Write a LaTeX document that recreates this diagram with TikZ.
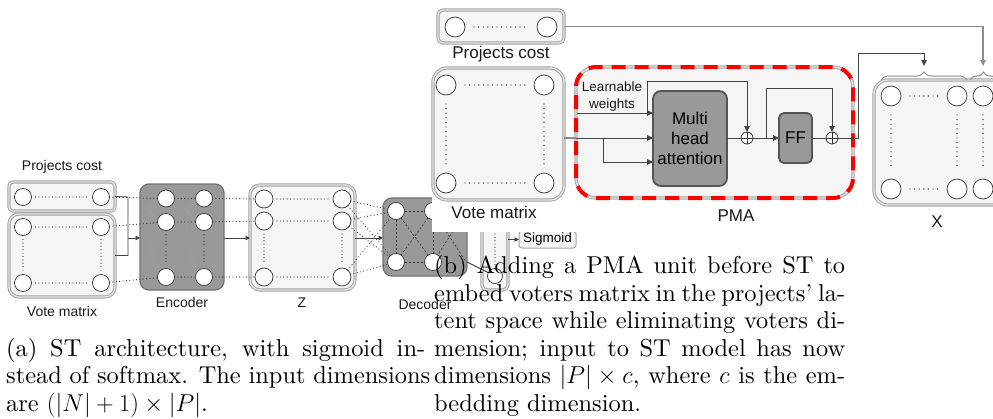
\RequirePackage{fix-cm}
\documentclass[tikz,border=0pt]{standalone}
\usepackage{fontspec}
\newfontfamily\dsans{Liberation Sans}
\newfontfamily\capfam{lmroman10-regular}[Extension=.otf, Ligatures=TeX]
\usetikzlibrary{arrows.meta,decorations.pathreplacing}
\definecolor{boxfill}{HTML}{F5F5F5}
\definecolor{boxline}{HTML}{A0A0A0}
\definecolor{boxdbl}{HTML}{E4E4E4}
\definecolor{darkfill}{HTML}{999999}
\definecolor{darkline}{HTML}{747474}
\definecolor{mhaline}{HTML}{555555}
\definecolor{aconncol}{HTML}{444444}
\definecolor{gconncol}{HTML}{8C8C8C}
\definecolor{dotcol}{HTML}{333333}
\definecolor{curvecol}{HTML}{A2A2A2}
\newcommand\capfont{\fontsize{24.4}{27.5}\capfam}
\tikzset{
  lbox/.style={draw=boxline, double=boxdbl, double distance=1.4pt, line width=0.9pt, fill=boxfill, rounded corners=#1, inner sep=0pt, outer sep=0pt},
  lbox/.default=8pt,
  sbox/.style={draw=boxline, line width=1pt, fill=boxfill, rounded corners=3pt, inner sep=0pt, outer sep=0pt},
  dbox/.style={draw=darkline, line width=1.3pt, fill=darkfill, rounded corners=9pt, inner sep=0pt, outer sep=0pt},
  mbox/.style={draw=mhaline, line width=1.8pt, fill=darkfill, rounded corners=8pt, inner sep=0pt, outer sep=0pt, align=center, font=\dsans\fontsize{17}{20}\selectfont},
  circ/.style={circle, draw=dotcol, fill=white, line width=0.7pt, minimum size=#1, inner sep=0pt, outer sep=0pt},
  circ/.default=17pt,
  oplus/.style={circle, draw=dotcol, fill=white, line width=0.8pt, minimum size=12pt, inner sep=0pt, outer sep=0pt,
    path picture={\draw[dotcol, line width=0.8pt] (path picture bounding box.north) -- (path picture bounding box.south) (path picture bounding box.west) -- (path picture bounding box.east);}},
  laba/.style={font=\dsans\fontsize{14}{16}\selectfont, inner sep=0pt, text=black!90},
  labb/.style={font=\dsans\fontsize{17}{20}\selectfont, inner sep=0pt, text=black!90},
  lwtext/.style={font=\dsans\fontsize{13.5}{17}\selectfont, inner sep=0pt, align=center, text=black!90},
  idots/.style={draw=dotcol, line width=1.2pt, line cap=round, dash pattern=on 0pt off 3.4pt, shorten >=4pt, shorten <=4pt},
  edots/.style={draw=dotcol, line width=1.2pt, line cap=round, dash pattern=on 0pt off 3.4pt},
  bdots/.style={draw=dotcol, line width=1.4pt, line cap=round, dash pattern=on 0pt off 4.6pt, shorten >=9pt, shorten <=9pt},
  gcurve/.style={draw=curvecol, line width=1pt, line cap=round, dash pattern=on 0pt off 2pt},
  ddash/.style={draw=dotcol, line width=0.6pt, dash pattern=on 2pt off 2pt},
  aconn/.style={draw=aconncol, line width=0.9pt},
  aarr/.style={-{Triangle[length=4.5pt,width=4.5pt]}},
  pconn/.style={draw=aconncol, line width=1pt},
  gconn/.style={draw=gconncol, line width=1.3pt},
  parr/.style={-{Triangle[length=6pt,width=5.5pt]}},
  reddash/.style={draw=red, line width=4pt, dash pattern=on 14pt off 9pt},
  bracestyle/.style={draw=gconncol, line width=1pt, decorate, decoration={brace, amplitude=8pt}},
  capline/.style={anchor=base west, inner sep=0pt, font=\capfont},
}
\begin{document}
\begin{tikzpicture}[x=1pt, y=-1pt]
\useasboundingbox (0,0) rectangle (993,418);
\clip (0,0) rectangle (993,418);
\fill[white] (0,0) rectangle (993,418);

% ================= (a) =================
\node[laba] (lpca) at (62,167) {Projects cost};
\node[lbox=4pt, minimum width=106pt, minimum height=29pt] (pca) at (62,196.5) {};
\node[circ] (pc1) at (23,197) {};
\node[circ] (pc2) at (101,197) {};
\draw[idots] (pc1) -- (pc2);

\node[lbox=10pt, minimum width=106pt, minimum height=83pt] (vma) at (62,255.5) {};
\node[circ] (va1) at (23,227) {};
\node[circ] (va2) at (101,227) {};
\node[circ] (va3) at (23,283) {};
\node[circ] (va4) at (101,283) {};
\draw[idots] (va1) -- (va2);
\draw[idots] (va3) -- (va4);
\draw[idots] (va1) -- (va3);
\draw[idots] (va2) -- (va4);
\node[laba] (lvma) at (62,311) {Vote matrix};

% encoder
\node[dbox, minimum width=84pt, minimum height=106pt] (enc) at (182,237) {};
\node[laba] (lenc) at (182,302) {Encoder};
\coordinate (jt) at (128,197);
\coordinate (jb) at (128,255.5);
\coordinate (jm) at (128,238);
\draw[aconn] (pca.east) -- (jt) -- (jb) -- (vma.east);
\draw[aconn, aarr] (jm) -- (enc.west |- jm);

\node[circ] (e11) at (166,198.5) {};
\node[circ] (e12) at (204,198.5) {};
\node[circ] (e21) at (166,222) {};
\node[circ] (e22) at (204,222) {};
\node[circ] (e31) at (166,277) {};
\node[circ] (e32) at (204,277) {};
\foreach \c/\d in {e11/e21, e12/e22}{
  \draw[gcurve] (\c.205) .. controls +(-12,6) and +(-10,-6) .. (\d.155);
  \draw[gcurve] (\c.195) .. controls +(-18,10) and +(-10,-20) .. (\d.200);
}
\draw[gcurve] (e11.200) .. controls +(-16,12) and +(-10,-22) .. (e31.160);
\draw[gcurve] (e21.200) .. controls +(-12,12) and +(-6,-16) .. (e31.140);
\draw[gcurve] (e12.200) .. controls +(-16,12) and +(-10,-22) .. (e32.160);
\draw[gcurve] (e22.200) .. controls +(-12,12) and +(-6,-16) .. (e32.140);
\draw[edots] (e11) -- (e12);
\draw[edots] (e21) -- (e22);
\draw[edots] (e31) -- (e32);
\draw[idots] (e21) -- (e31);
\draw[idots] (e22) -- (e32);
\draw[edots] (pc2) -- (e11);
\draw[edots] (va2) -- (e21);
\draw[edots] (va4) -- (e31);

% Z
\node[lbox=10pt, minimum width=105pt, minimum height=105pt] (zb) at (302.5,237.5) {};
\node[laba] (lz) at (302,303) {Z};
\node[circ=18pt] (z11) at (264,199) {};
\node[circ=18pt] (z12) at (342,199) {};
\node[circ=18pt] (z21) at (264,221) {};
\node[circ=18pt] (z22) at (342,221) {};
\node[circ=18pt] (z31) at (264,277) {};
\node[circ=18pt] (z32) at (342,277) {};
\draw[idots] (z11) -- (z12);
\draw[idots] (z21) -- (z22);
\draw[idots] (z31) -- (z32);
\draw[idots] (z21) -- (z31);
\draw[idots] (z22) -- (z32);
\draw[edots] (e12) -- (z11);
\draw[edots] (e22) -- (z21);
\draw[edots] (e32) -- (z31);
\draw[aconn, aarr] (enc.east |- jm) -- (zb.west |- jm);

% decoder
\node[dbox, minimum width=84pt, minimum height=78pt] (dec) at (425,237) {};
\node[laba] (ldec) at (425,304) {Decoder};
\node[circ] (d11) at (396,211) {};
\node[circ] (d12) at (433,211) {};
\node[circ] (d21) at (396,262) {};
\node[circ] (d22) at (433,262) {};
\coordinate (dne) at (466,211);
\coordinate (dse) at (466,262);
\draw[ddash] (d11) -- (d12);
\draw[ddash] (d21) -- (d22);
\draw[ddash] (d11) -- (d21);
\draw[ddash] (d12) -- (d22);
\draw[ddash] (d11) -- (d22);
\draw[ddash] (d12) -- (d21);
\draw[ddash] (d12) -- (dse);
\draw[ddash] (dne) -- (d22);
\foreach \z in {z12,z22,z32}{
  \draw[edots] (\z) -- (d11);
  \draw[edots] (\z) -- (d21);
}
\draw[aconn, aarr] (zb.east |- jm) -- (dec.west |- jm);

% narrow output column and sigmoid
\node[lbox=5pt, minimum width=26pt, minimum height=100pt] (nb) at (495,240) {};
\node[circ=15pt] (nc) at (495,276) {};
\coordinate (ntop) at (495,200);
\draw[idots] (nc) -- (ntop);
\draw[aconn] (dec.east |- d22) -- (nc);
\node[sbox, minimum width=57pt, minimum height=17pt, font=\dsans\fontsize{13.5}{15}\selectfont] (sig) at (547.5,239.5) {Sigmoid};
\draw[aconn, aarr] (nb.east |- sig) -- (sig.west);

% ================= (b) =================
\fill[white] (432,0) rectangle (993,232);

\node[lbox=5pt, minimum width=126pt, minimum height=33pt] (pcb) at (501,26.5) {};
\node[circ=20pt] (pb1) at (455,27) {};
\node[circ=20pt] (pb2) at (547,27) {};
\draw[bdots] (pb1) -- (pb2);
\node[labb] (lpcb) at (501,54) {Projects cost};

\node[lbox=14pt, minimum width=131pt, minimum height=132pt] (vmb) at (498.5,134) {};
\node[circ=20pt] (vb1) at (446,85) {};
\node[circ=20pt] (vb2) at (544,85) {};
\node[circ=20pt] (vb3) at (446,183) {};
\node[circ=20pt] (vb4) at (544,183) {};
\draw[bdots] (vb1) -- (vb2);
\draw[bdots] (vb3) -- (vb4);
\draw[bdots] (vb1) -- (vb3);
\draw[bdots] (vb2) -- (vb4);
\node[labb] (lvmb) at (494,212) {Vote matrix};

% PMA
\node[lbox=20pt, minimum width=277pt, minimum height=131pt] (pma) at (714.5,132.5) {};
\draw[reddash, rounded corners=20pt] (pma.south west) rectangle (pma.north east);
\node[labb] (lpma) at (736,216) {PMA};
\node[lwtext] (lw) at (612,97) {Learnable\\weights};
\node[mbox, minimum width=74pt, minimum height=95pt] (mha) at (690,138.5) {Multi\\head\\attention};
\node[mbox, minimum width=33pt, minimum height=50pt, rounded corners=5pt] (ff) at (795.5,138) {FF};
\node[oplus] (p1) at (747,138) {};
\node[oplus] (p2) at (832,138) {};

\coordinate (pin) at (603,138);
\coordinate (plow) at (653,162);
\coordinate (lwin) at (577,113);
\coordinate (r1) at (647,113);
\coordinate (r2) at (766,138);
\coordinate (k1) at (858,53);
\coordinate (t1) at (924,66);
\coordinate (t2) at (983,66);
\draw[gconn] (vmb.east |- pin) -- (pma.west |- pin);
\draw[pconn] (pma.west |- pin) -- (pin);
\draw[pconn, parr] (pin) -- (mha.west |- pin);
\draw[pconn, parr] (pin) |- (mha.west |- plow);
\draw[pconn, parr] (lwin) -- (mha.west |- lwin);
\draw[pconn, parr] (r1) -- ++(0,-32) -| (p1.north);
\draw[pconn] (mha.east |- p1) -- (p1.west);
\draw[pconn, parr] (p1.east) -- (ff.west |- p1);
\draw[pconn, parr] (r2) -- ++(0,-50) -| (p2.north);
\draw[pconn] (ff.east |- p2) -- (p2.west);
\draw[pconn, parr] (p2.east) -| (k1) -| (t1);
\draw[gconn, parr] (pcb.east) -| (t2);

% X
\node[lbox=14pt, minimum width=140pt, minimum height=125pt] (xb) at (944,142.5) {};
\coordinate (bl1) at (881,80);
\coordinate (br1) at (967,80);
\coordinate (bl2) at (970,80);
\coordinate (br2) at (997,80);
\draw[bracestyle] (bl1) -- (br1);
\draw[bracestyle] (bl2) -- (br2);
\node[circ=20pt] (x11) at (891,96) {};
\node[circ=20pt] (x12) at (957,96) {};
\node[circ=20pt] (x13) at (983,96) {};
\node[circ=20pt] (x21) at (891,189) {};
\node[circ=20pt] (x22) at (957,189) {};
\node[circ=20pt] (x23) at (983,189) {};
\draw[bdots] (x11) -- (x12);
\draw[bdots] (x21) -- (x22);
\draw[bdots] (x11) -- (x21);
\draw[bdots] (x12) -- (x22);
\draw[bdots] (x13) -- (x23);
\node[labb] (lx) at (937,222) {X};

% ================= captions =================
\node[capline] (ca1) at (6,356) {\makebox[419pt][s]{(a) ST architecture, with sigmoid in-}};
\node[capline] (ca2) at (6,383.5) {\makebox[424pt][s]{stead of softmax. The input dimensions}};
\node[capline] (ca3) at (6,411) {are $(|N|+1)\times|P|$.};

\node[capline] (cb1) at (434,273.5) {\makebox[411pt][s]{(b) Adding a PMA unit before ST to}};
\node[capline] (cb2) at (434,301) {\makebox[411pt][s]{embed voters matrix in the projects' la-}};
\node[capline] (cb3) at (434,328.5) {\makebox[411pt][s]{tent space while eliminating voters di-}};
\node[capline] (cb4) at (434,356) {\makebox[411pt][s]{mension; input to ST model has now}};
\node[capline] (cb5) at (434,383.5) {\makebox[411pt][s]{dimensions $|P|\times c$, where $c$ is the em-}};
\node[capline] (cb6) at (434,411) {bedding dimension.};
\end{tikzpicture}
\end{document}
